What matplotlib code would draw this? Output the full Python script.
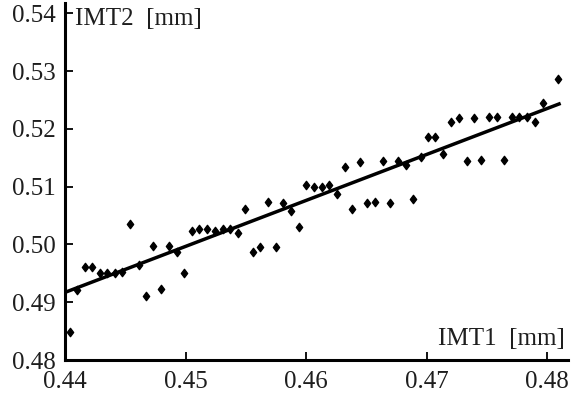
import numpy as np
import matplotlib
matplotlib.use('Agg')
from matplotlib import pyplot as plt
from matplotlib.path import Path

# IMT1 / IMT2 measurements [mm]
imt1 = [0.44042, 0.44102, 0.44166, 0.44227, 0.44290, 0.44352, 0.44416, 0.44477,
        0.44540, 0.44610, 0.44671, 0.44734, 0.44798, 0.44859, 0.44926, 0.44990,
        0.45050, 0.45114, 0.45178, 0.45245, 0.45308, 0.45370, 0.45433, 0.45497,
        0.45558, 0.45622, 0.45686, 0.45749, 0.45813, 0.45877, 0.45940, 0.46002,
        0.46065, 0.46129, 0.46193, 0.46256, 0.46320, 0.46384, 0.46447, 0.46509,
        0.46572, 0.46639, 0.46700, 0.46764, 0.46827, 0.46891, 0.46952, 0.47016,
        0.47074, 0.47138, 0.47207, 0.47268, 0.47332, 0.47393, 0.47454, 0.47518,
        0.47582, 0.47645, 0.47709, 0.47770, 0.47834, 0.47900, 0.47964, 0.48094]
imt2 = [0.4848, 0.4921, 0.4961, 0.4961, 0.4950, 0.4950, 0.4951, 0.4953,
        0.5035, 0.4964, 0.4911, 0.4997, 0.4922, 0.4997, 0.4987, 0.4950,
        0.5023, 0.5027, 0.5027, 0.5023, 0.5027, 0.5027, 0.5020, 0.5061,
        0.4986, 0.4996, 0.5073, 0.4996, 0.5071, 0.5058, 0.5030, 0.5102,
        0.5100, 0.5100, 0.5102, 0.5087, 0.5134, 0.5062, 0.5143, 0.5071,
        0.5073, 0.5145, 0.5072, 0.5144, 0.5138, 0.5078, 0.5152, 0.5185,
        0.5186, 0.5157, 0.5211, 0.5218, 0.5144, 0.5219, 0.5146, 0.5220,
        0.5220, 0.5146, 0.5220, 0.5220, 0.5220, 0.5212, 0.5244, 0.5287]

# regression line end points
fit_x = [0.4400, 0.4810]
fit_y = [0.4917, 0.5243]

xticks = [0.44, 0.45, 0.46, 0.47, 0.48]
yticks = [0.48, 0.49, 0.50, 0.51, 0.52, 0.53, 0.54]

plt.rcParams['font.family'] = ['Liberation Serif', 'DejaVu Serif']
txtc = '#1e1e1e'

# diamond a bit wider than 'd'
diamond = Path([(0, 1), (0.75, 0), (0, -1), (-0.75, 0), (0, 1)],
               [Path.MOVETO, Path.LINETO, Path.LINETO, Path.LINETO, Path.CLOSEPOLY])

fig = plt.figure(figsize=(5.71, 3.97), dpi=100)
ax = fig.add_axes([65/571, 37/397, 502.5/571, 356.6/397])

ax.plot(fit_x, fit_y, color='black', lw=2.5, zorder=2)
ax.plot(imt1, imt2, ls='none', marker=diamond, ms=6, color='black', zorder=3)

ax.set_xlim(0.44, 0.4817)
ax.set_ylim(0.48, 0.5417)
ax.set_xticks(xticks)
ax.set_yticks(yticks)
ax.set_xticklabels(['%.2f' % v for v in xticks])
ax.set_yticklabels(['%.2f' % v for v in yticks])

for s in ['top', 'right']:
    ax.spines[s].set_visible(False)
for s in ['left', 'bottom']:
    ax.spines[s].set_linewidth(2.2)
ax.tick_params(direction='in', length=6, width=1.3, labelsize=18,
               color='black', labelcolor=txtc)
ax.tick_params(axis='x', pad=8)
ax.tick_params(axis='y', pad=7)

ax.text(0.02, 0.957, 'IMT2  [mm]', transform=ax.transAxes, fontsize=18,
        va='center', ha='left', color=txtc)
ax.text(0.995, 0.058, 'IMT1  [mm]', transform=ax.transAxes, fontsize=18,
        va='center', ha='right', color=txtc)

fig.savefig('out.png', dpi=100)
